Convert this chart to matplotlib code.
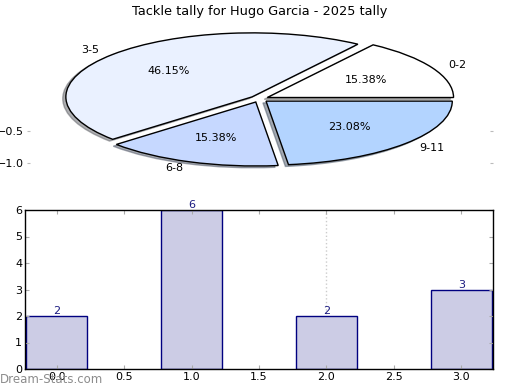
import matplotlib
matplotlib.use("Agg")
import matplotlib.pyplot as plt

# Data
categories = ["0-2", "3-5", "6-8", "9-11"]
counts = [2, 6, 2, 3]
bar_x = [0, 1, 2, 3]
title = "Tackle tally for Hugo Garcia - 2025 tally"
pie_colors = ["#ffffff", "#eaf1ff", "#c6d8ff", "#b3d4ff"]

fig = plt.figure(figsize=(5.2, 3.9), dpi=100)

# Pie axes
axp = fig.add_axes([30/520, 1-179/390, 460/520, 160/390])
axp.pie(counts, labels=categories, colors=pie_colors, autopct="%.2f%%",
        explode=[0.05]*len(counts),
        shadow=dict(ox=-0.012, oy=-0.02, shade=0.6), startangle=0,
        wedgeprops=dict(edgecolor="black", linewidth=1),
        textprops=dict(fontsize=8))
axp.set_aspect("auto")
axp.set_xlim(-1.23, 1.24)
axp.set_ylim(-1.25, 1.25)
axp.set_frame_on(False)
axp.set_xticks([])
axp.set_yticks([-1.0, -0.5])
axp.tick_params(axis="y", left=True, right=True, labelleft=True,
                color="#bbbbbb", length=2.5, pad=2, direction="out", labelsize=8)
axp.set_title(title, fontsize=9.3, pad=3)

# Bar axes
axb = fig.add_axes([25/520, 1-369/390, 468/520, 159/390])
axb.bar(bar_x, counts, width=0.45, color="#cccce5", edgecolor="#000080", linewidth=1)
for x, v in zip(bar_x, counts):
    axb.text(x, v, str(v), ha="center", va="bottom", color="#1a1a80", fontsize=8)
axb.axvline(2.0, color="#cccccc", linestyle=":", linewidth=1, zorder=0.5)
axb.set_xlim(-0.235, 3.235)
axb.set_ylim(0, 6)
axb.set_xticks([0.0, 0.5, 1.0, 1.5, 2.0, 2.5, 3.0])
axb.set_xticklabels(["0.0", "0.5", "1.0", "1.5", "2.0", "2.5", "3.0"])
axb.set_yticks([0, 1, 2, 3, 4, 5, 6])
axb.tick_params(direction="in", top=True, right=True, color="#aaaaaa",
                length=3, labelsize=8, pad=2)
for s in axb.spines.values():
    s.set_linewidth(1)
    s.set_color("black")

fig.text(0.0, 0.01, "Dream-Stats.com", color="#8c8c8c", fontsize=8.5,
         ha="left", va="bottom")

fig.savefig("out.png", dpi=100)
